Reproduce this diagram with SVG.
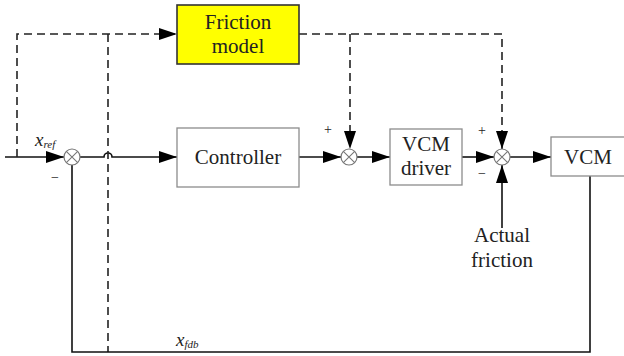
<svg xmlns="http://www.w3.org/2000/svg" width="624" height="356" viewBox="0 0 624 356">
<defs>
<marker id="arr" markerUnits="userSpaceOnUse" markerWidth="18" markerHeight="12" refX="18" refY="6" orient="auto">
<path d="M0,0 L18,6 L0,12 z" fill="#000"/>
</marker>
<style>
.ln{fill:none;stroke:#111;stroke-width:1.6}
.da{fill:none;stroke:#222;stroke-width:1.6;stroke-dasharray:8 5}
.box{fill:#fff;stroke:#8c8c8c;stroke-width:1.3}
.yb{fill:#ffff00;stroke:#333;stroke-width:1.6}
text{font-family:"Liberation Serif","Times New Roman",serif}
.t{font-size:21px;fill:#222;text-anchor:middle}
.s{font-size:14px;fill:#222;text-anchor:middle}
.it{font-style:italic;fill:#222}
.sum circle{fill:#fff;stroke:#777;stroke-width:1.2}
.sum path{stroke:#777;stroke-width:1.1;fill:none}
</style>
</defs>
<g id="connectors">
<path class="ln" d="M5,157 H64" marker-end="url(#arr)"/>
<path class="ln" d="M80,157 H104 A4,4 0 0 1 112,157 H177" marker-end="url(#arr)"/>
<path class="da" d="M17,157 V34 H177" marker-end="url(#arr)"/>
<path class="da" d="M108,34 V352"/>
<path class="da" d="M299,34 H502 V149" marker-end="url(#arr)"/>
<path class="da" d="M350,34 V149" marker-end="url(#arr)"/>
<path class="ln" d="M299,157 H341" marker-end="url(#arr)"/>
<path class="ln" d="M357,157 H390" marker-end="url(#arr)"/>
<path class="ln" d="M462,157 H494" marker-end="url(#arr)"/>
<path class="ln" d="M510,157 H551" marker-end="url(#arr)"/>
<path class="ln" d="M502,228 V165" marker-end="url(#arr)"/>
<path class="ln" d="M72,165 V352 H590 V176"/>
</g>
<g id="friction-model">
<rect class="yb" x="177" y="5" width="122" height="59"/>
<text class="t" x="238" y="29">Friction</text>
<text class="t" x="238" y="53">model</text>
</g>
<g id="controller">
<rect class="box" x="177" y="128" width="122" height="59"/>
<text class="t" x="238" y="164">Controller</text>
</g>
<g id="vcm-driver">
<rect class="box" x="390" y="129" width="72" height="56"/>
<text class="t" x="426" y="151">VCM</text>
<text class="t" x="426" y="175">driver</text>
</g>
<g id="vcm">
<rect class="box" x="551" y="137" width="80" height="39"/>
<text class="t" x="588" y="164">VCM</text>
</g>
<g id="sum1" class="sum">
<circle cx="72" cy="157" r="8"/>
<path d="M66.3,151.3 L77.7,162.7 M77.7,151.3 L66.3,162.7"/>
</g>
<g id="sum2" class="sum">
<circle cx="349" cy="157" r="8"/>
<path d="M343.3,151.3 L354.7,162.7 M354.7,151.3 L343.3,162.7"/>
</g>
<g id="sum3" class="sum">
<circle cx="502" cy="157" r="8"/>
<path d="M496.3,151.3 L507.7,162.7 M507.7,151.3 L496.3,162.7"/>
</g>
<g id="labels">
<text class="it" x="35" y="146" font-size="19">x<tspan font-size="11" dy="2">ref</tspan></text>
<text class="it" x="176" y="346" font-size="19">x<tspan font-size="11" dy="2">fdb</tspan></text>
<text class="s" x="55" y="182">−</text>
<text class="s" x="328" y="134">+</text>
<text class="s" x="482" y="135">+</text>
<text class="s" x="482" y="178">−</text>
<text class="t" x="502" y="242">Actual</text>
<text class="t" x="502" y="267">friction</text>
</g>
</svg>
